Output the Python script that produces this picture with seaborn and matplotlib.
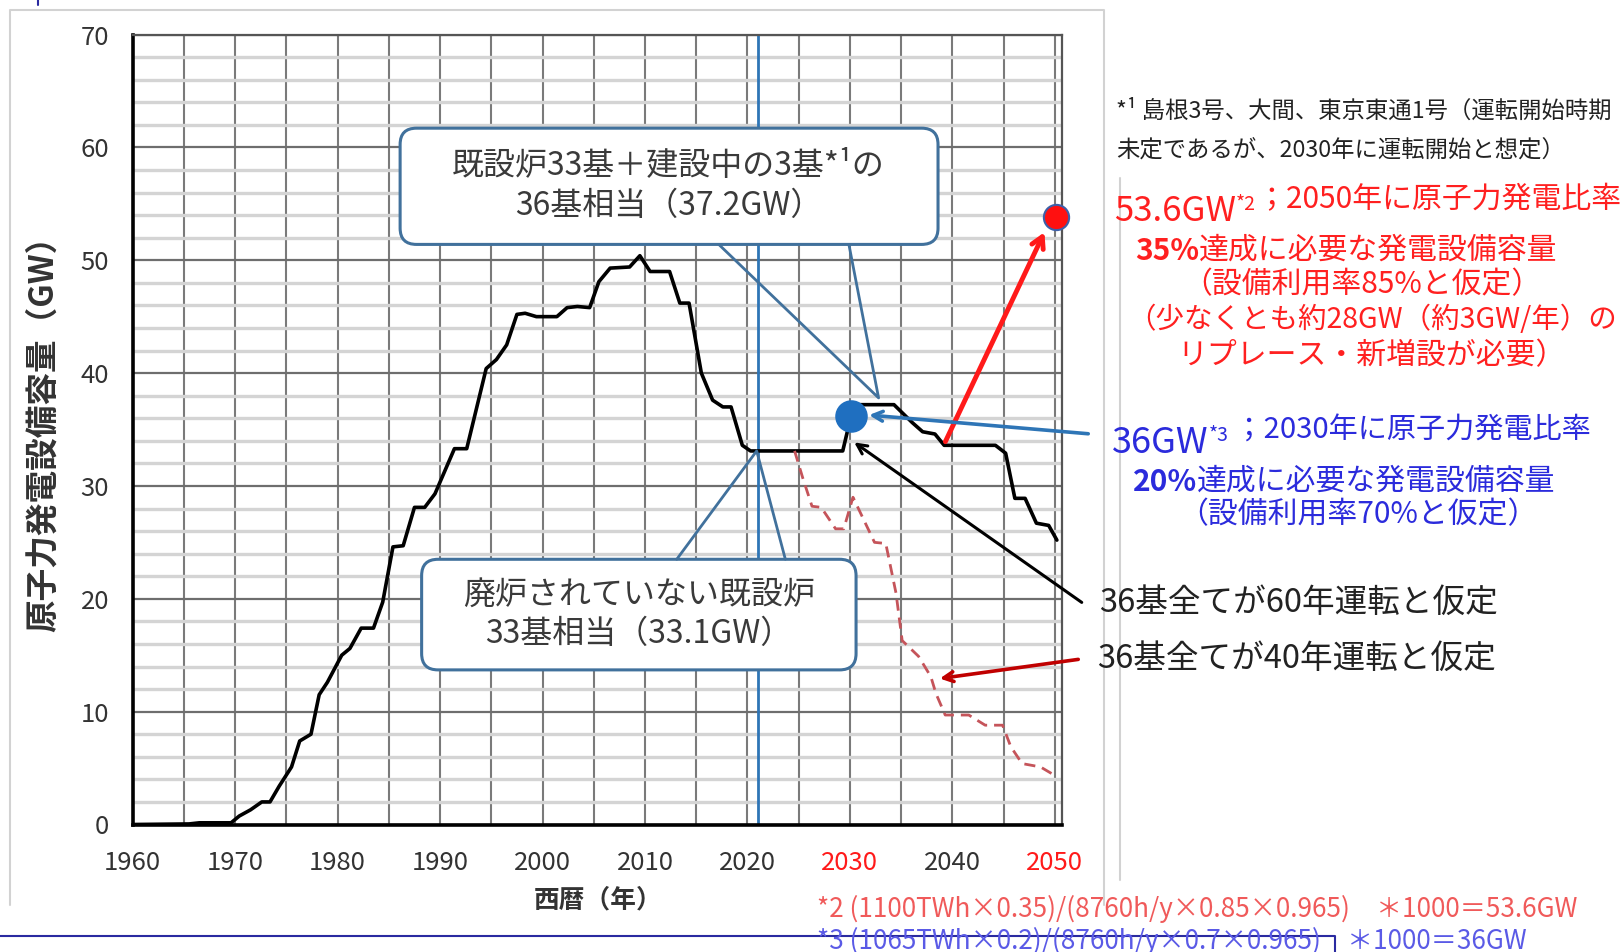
import numpy as np
import pandas as pd
import seaborn as sb
import matplotlib.pyplot as plt
from matplotlib.patches import FancyBboxPatch
from matplotlib.lines import Line2D

# ---- data ----
# black line: 36 reactors, 60 year operation (vertices of the polyline)
life60_year = [1960, 1965.5, 1966.5, 1969.6, 1970.4, 1971.5, 1972.6, 1973.4, 1974.3, 1975.5,
               1976.3, 1977.4, 1978.2, 1979.0, 1980.4, 1981.2, 1982.3, 1983.5, 1984.4, 1985.4,
               1986.4, 1987.5, 1988.5, 1989.5, 1991.4, 1992.6, 1994.5, 1995.5, 1996.5, 1997.5,
               1998.3, 1999.4, 2001.4, 2002.4, 2003.4, 2004.6, 2005.5, 2006.6, 2008.5, 2009.5,
               2010.5, 2012.4, 2013.4, 2014.3, 2015.5, 2016.6, 2017.6, 2018.4, 2019.5, 2020.3,
               2029.3, 2029.8, 2030.6, 2034.3, 2036.1, 2037.1, 2038.3, 2039.2, 2044.2, 2045.2,
               2046.1, 2047.1, 2048.2, 2049.4, 2050.2]
life60_gw = [0, 0.05, 0.15, 0.15, 0.75, 1.3, 2.0, 2.0, 3.4, 5.1,
             7.4, 8.0, 11.5, 12.6, 15.0, 15.6, 17.4, 17.4, 19.7, 24.6,
             24.7, 28.1, 28.1, 29.3, 33.3, 33.3, 40.4, 41.2, 42.5, 45.2,
             45.3, 45.0, 45.0, 45.8, 45.9, 45.8, 48.1, 49.3, 49.4, 50.4,
             49.0, 49.0, 46.2, 46.2, 40.0, 37.6, 37.0, 37.0, 33.6, 33.1,
             33.1, 35.0, 37.2, 37.2, 35.6, 34.8, 34.6, 33.6, 33.6, 32.9,
             28.9, 28.9, 26.7, 26.5, 25.2]

# red dashed line: 36 reactors, 40 year operation
life40_year = [2024.6, 2025.4, 2026.3, 2027.2, 2028.6, 2029.4, 2030.3, 2032.4, 2033.5, 2034.5,
               2035.1, 2036.7, 2037.9, 2038.4, 2039.3, 2041.6, 2043.2, 2044.9, 2045.7, 2046.8,
               2048.6, 2049.9]
life40_gw = [33.1, 30.7, 28.2, 28.1, 26.2, 26.2, 29.0, 25.0, 24.9, 20.5,
             16.3, 14.9, 13.1, 11.6, 9.7, 9.7, 8.8, 8.8, 6.9, 5.4,
             5.1, 4.4]

target2030 = (2030.1, 36.2)
target2050 = (2050.1, 53.8)
now_year = 2021
red_arrow_from = (2039.2, 33.7)

xtick_years = [1960, 1970, 1980, 1990, 2000, 2010, 2020, 2030, 2040, 2050]
red_years = [2030, 2050]

W, H = 1622, 952


def fx(px):
    return px / W


def fy(py):
    return 1 - py / H


sb.set_style('white')
plt.rcParams['font.family'] = ['Noto Sans CJK JP', 'DejaVu Sans']

fi = plt.figure(figsize=(W / 100, H / 100), dpi=100)
ax = fi.add_axes([fx(132.7), fy(824.5), fx(1062) - fx(132.7), fy(34.5) - fy(824.5)])

df60 = pd.DataFrame({'year': life60_year, 'gw': life60_gw})
df40 = pd.DataFrame({'year': life40_year, 'gw': life40_gw})

sb.lineplot(x='year', y='gw', data=df60, sort=False, estimator=None,
            color='black', lw=2.6, ax=ax, zorder=3)
sb.lineplot(x='year', y='gw', data=df40, sort=False, estimator=None,
            color='#c5545a', lw=2.0, ax=ax, zorder=3)
ax.lines[-1].set_dashes([4, 2.5])

ax.axvline(now_year, color='#2e75b6', lw=2.0, zorder=2)

# axes, grid
ax.set_xlim(1960, 2050.7)
ax.set_ylim(0, 70)
ax.set_xticks(xtick_years)
ax.set_xticks(np.arange(1965, 2051, 10), minor=True)
ax.set_yticks(np.arange(0, 71, 10))
ax.set_yticks(np.arange(2, 70, 2), minor=True)
ax.grid(which='minor', axis='y', color='#d4d4d4', lw=2.4)
ax.grid(which='major', axis='y', color='#6e6e6e', lw=1.6)
ax.grid(which='both', axis='x', color='#7a7a7a', lw=1.5)
ax.set_axisbelow(True)
ax.tick_params(axis='x', which='both', length=7, width=1.5, color='#555555',
               direction='out', pad=11, labelsize=18.5, labelcolor='#333333')
ax.tick_params(axis='y', which='major', length=8, width=1.5, color='#555555',
               direction='out', pad=9, labelsize=18.5, labelcolor='#333333')
ax.tick_params(axis='y', which='minor', length=0)
for lab in ax.get_xticklabels():
    if int(float(lab.get_text().replace('−', '-'))) in red_years:
        lab.set_color('#ff1a1a')
ax.set_xlabel('')
ax.set_ylabel('')
for s in ['left', 'bottom']:
    ax.spines[s].set_color('black')
    ax.spines[s].set_linewidth(2.6)
for s in ['top', 'right']:
    ax.spines[s].set_color('#555555')
    ax.spines[s].set_linewidth(1.6)

# boxes with callouts
box_kw = dict(boxstyle='round,pad=0,rounding_size=1.6', mutation_aspect=0.9,
              fc='white', ec='#41719c', lw=2.2, zorder=5)
ax.add_patch(FancyBboxPatch((1986.1, 51.4), 52.5, 10.3, **box_kw))
ax.add_patch(FancyBboxPatch((1988.2, 13.7), 42.4, 9.8, **box_kw))
ax.plot([2017.2, 2032.8, 2029.9], [51.4, 37.8, 51.4], color='#41719c', lw=2.0, zorder=5)
ax.plot([2013.1, 2020.9, 2023.7], [23.5, 33.1, 23.5], color='#41719c', lw=2.0, zorder=5)
ax.text(2012.3, 56.6, '既設炉33基＋建設中の3基*¹の\n36基相当（37.2GW）', ha='center', va='center',
        fontsize=23, color='#3a3a3a', linespacing=1.3, zorder=6)
ax.text(2009.4, 18.6, '廃炉されていない既設炉\n33基相当（33.1GW）', ha='center', va='center',
        fontsize=23, color='#3a3a3a', linespacing=1.3, zorder=6)

# arrows
ax.annotate('', xy=(2049.1, 52.7), xytext=red_arrow_from,
            arrowprops=dict(arrowstyle='->,head_length=0.8,head_width=0.45', color='#ff1a1a', lw=3.5),
            zorder=6)
ax.annotate('', xy=(2031.6, 36.3), xytext=(fx(1091), fy(434)), textcoords='figure fraction',
            arrowprops=dict(arrowstyle='->,head_length=0.7,head_width=0.35', color='#2e75b6', lw=2.6),
            annotation_clip=False, zorder=6)
ax.annotate('', xy=(2030.2, 34.0), xytext=(fx(1084), fy(604)), textcoords='figure fraction',
            arrowprops=dict(arrowstyle='->,head_length=0.7,head_width=0.35', color='black', lw=2.2),
            annotation_clip=False, zorder=6)
ax.annotate('', xy=(2038.5, 12.9), xytext=(fx(1081), fy(659)), textcoords='figure fraction',
            arrowprops=dict(arrowstyle='->,head_length=0.7,head_width=0.35', color='#c00000', lw=2.6),
            annotation_clip=False, zorder=6)

# target points
sb.scatterplot(x=[target2030[0]], y=[target2030[1]], s=470, color='#1f6fc0',
               edgecolor='#1f6fc0', ax=ax, zorder=7, clip_on=False)
sb.scatterplot(x=[target2050[0]], y=[target2050[1]], s=330, color='#ff1010',
               edgecolor='#3d5fa8', linewidth=1.5, ax=ax, zorder=7, clip_on=False)

# axis titles
fi.text(fx(43), fy(426), '原子力発電設備容量（GW）', rotation=90, ha='center', va='center',
        fontsize=23.5, fontweight='bold', color='#333333')
fi.text(fx(598), fy(900), '西暦（年）', ha='center', va='center',
        fontsize=18.5, fontweight='bold', color='#333333')

# right hand notes
fi.text(fx(1116), fy(111), '*¹ 島根3号、大間、東京東通1号（運転開始時期', ha='left', va='center',
        fontsize=16.8, color='#222222')
fi.text(fx(1116), fy(150), '未定であるが、2030年に運転開始と想定）', ha='left', va='center',
        fontsize=16.8, color='#222222')


def chain(prev, s, size, color, weight='normal', sup=False):
    return ax.annotate(s, xy=(1, 1 if sup else 0), xycoords=prev,
                       va='top' if sup else 'bottom', ha='left', fontsize=size,
                       color=color, fontweight=weight, annotation_clip=False)


red = '#ff2020'
t = fi.text(fx(1114), fy(229), '53.6GW', ha='left', va='bottom', fontsize=25, color=red)
t = chain(t, '*2', 14, red, sup=True)
chain(t, '；2050年に原子力発電比率', 21.5, red)
t = fi.text(fx(1135), fy(266), '35%', ha='left', va='bottom', fontsize=21.5, color=red, fontweight='bold')
chain(t, '達成に必要な発電設備容量', 21.5, red)
fi.text(fx(1362), fy(285), '（設備利用率85%と仮定）', ha='center', va='center', fontsize=21.5, color=red)
fi.text(fx(1372), fy(320), '（少なくとも約28GW（約3GW/年）の', ha='center', va='center', fontsize=20.5, color=red)
fi.text(fx(1372), fy(356), 'リプレース・新増設が必要）', ha='center', va='center', fontsize=21.5, color=red)

blue = '#2b2bdc'
t = fi.text(fx(1112), fy(461), '36GW', ha='left', va='bottom', fontsize=26, color=blue)
t = chain(t, '*3', 14, blue, sup=True)
chain(t, ' ；2030年に原子力発電比率', 21, blue)
t = fi.text(fx(1133), fy(497), '20%', ha='left', va='bottom', fontsize=21.5, color=blue, fontweight='bold')
chain(t, '達成に必要な発電設備容量', 21.5, blue)
fi.text(fx(1358), fy(515), '（設備利用率70%と仮定）', ha='center', va='center', fontsize=21.5, color=blue)

fi.text(fx(1099), fy(603), '36基全てが60年運転と仮定', ha='left', va='center', fontsize=23.5, color='#222222')
fi.text(fx(1097), fy(659), '36基全てが40年運転と仮定', ha='left', va='center', fontsize=23.5, color='#222222')

fi.text(fx(817), fy(909), '*2 (1100TWh×0.35)/(8760h/y×0.85×0.965)　＊1000＝53.6GW',
        ha='left', va='center', fontsize=18.8, color='#f05a5a')
fi.text(fx(817), fy(941), '*3 (1065TWh×0.2)/(8760h/y×0.7×0.965)　＊1000＝36GW',
        ha='left', va='center', fontsize=18.8, color='#5a5ae6')

# chart area frame and page marks
frame = dict(transform=fi.transFigure, color='#d2d2d2', lw=1.5)
fi.add_artist(Line2D([fx(10), fx(10), fx(1104), fx(1104)], [fy(905), fy(10), fy(10), fy(905)], **frame))
fi.add_artist(Line2D([fx(1120), fx(1120)], [fy(178), fy(880)], **frame))
fi.add_artist(Line2D([0, fx(1335), fx(1335)], [fy(936), fy(936), 0], transform=fi.transFigure,
                     color='#2a2aa0', lw=1.5))
fi.add_artist(Line2D([fx(38), fx(38)], [1, fy(5)], transform=fi.transFigure, color='#2a2aa0', lw=1.5))

plt.savefig('out.png', dpi=100)
plt.close()
